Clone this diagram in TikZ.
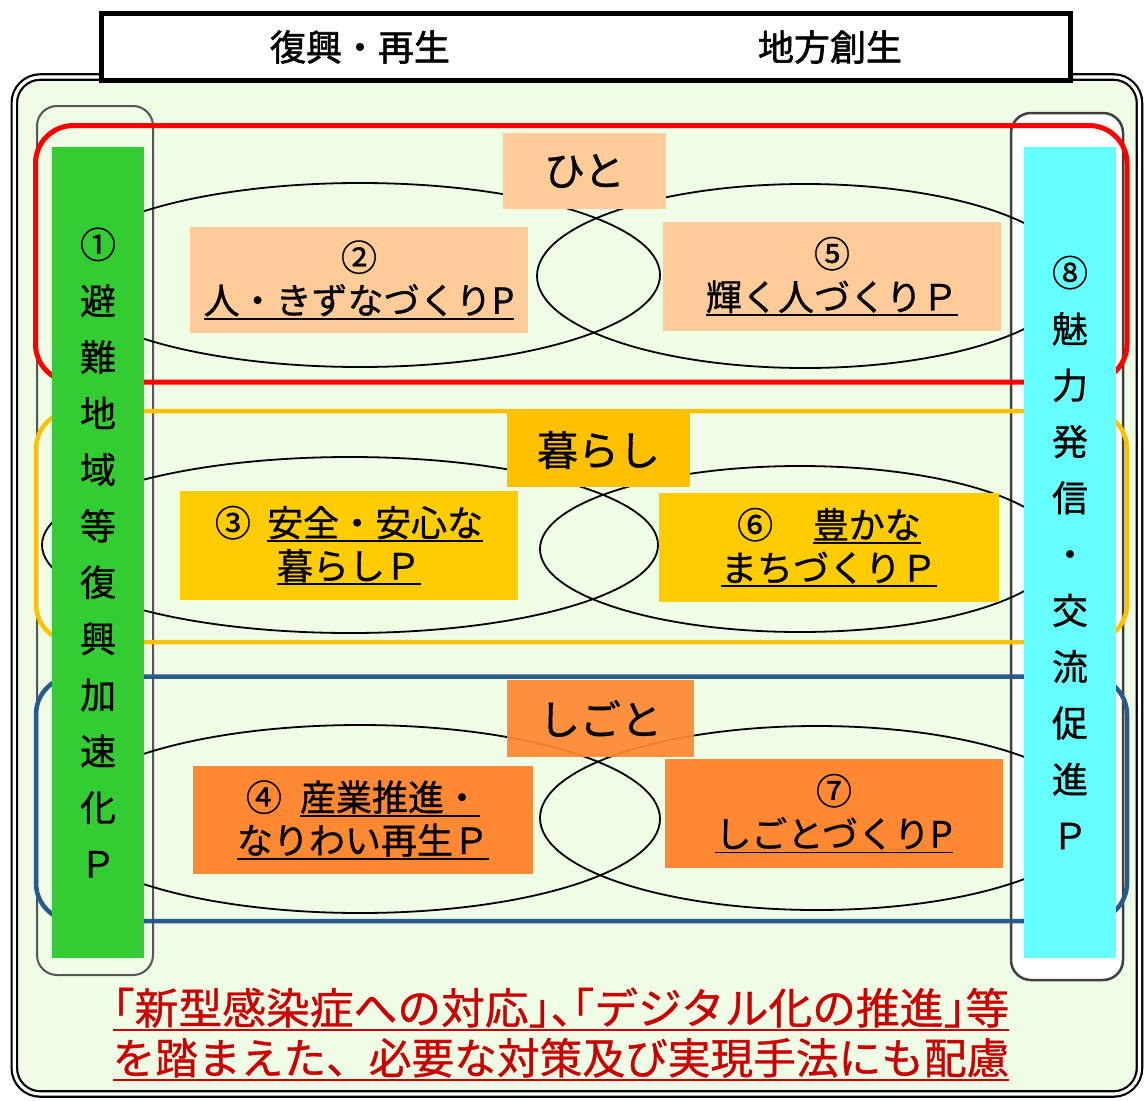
\documentclass[tikz,border=0pt]{standalone}
\usepackage{fontspec}
\setmainfont{Noto Sans CJK JP}
\newfontfamily\jpmed{Noto Sans CJK JP}[FakeBold=0.8]
\newfontfamily\jptitle{Noto Sans CJK JP}[FakeBold=1.6]
\definecolor{bgc}{HTML}{EFFDE7}
\definecolor{grnc}{HTML}{33CC33}
\definecolor{cyac}{HTML}{66FFFF}
\definecolor{peach}{HTML}{FFCC99}
\definecolor{ylwa}{HTML}{FFC000}
\definecolor{ylwb}{HTML}{FFCC00}
\definecolor{orng}{HTML}{FF8833}
\definecolor{bandred}{HTML}{FF0000}
\definecolor{bandblue}{HTML}{2A5A8C}
\definecolor{txtred}{HTML}{CC0000}
\definecolor{grayline}{HTML}{555555}
\newcommand\ulx[1]{\setbox0\hbox{#1}\rlap{\rule[-0.16em]{\wd0}{0.045em}}\box0}
\newcommand\hp[1]{{\addfontfeatures{RawFeature=+halt}#1}}
\begin{document}
\begin{tikzpicture}[x=1pt,y=-1pt,
  lbl/.style={inner sep=0pt, outer sep=0pt, align=center, font=\fontsize{36}{43}\jpmed},
  catbox/.style={inner sep=0pt, outer sep=0pt, font=\fontsize{41}{48}\jpmed},
  ell/.style={draw=black, line width=1.8pt},
  band/.style={rounded corners=38pt, line width=4.5pt},
  pillar/.style={inner sep=0pt, outer sep=0pt, align=center, minimum width=92pt, minimum height=811pt, font=\fontsize{36}{56.3}\jpmed},
  bottomtxt/.style={inner sep=0pt, text=txtred, font=\fontsize{42.7}{50}\jpmed}]
\useasboundingbox (0,0) rectangle (1148,1100);
% outer frame
\draw[fill=bgc, draw=black, line width=2.2pt, double=white, double distance=3.2pt, rounded corners=26pt] (14.3,77) rectangle (1139.5,1094);
% title box
\node[draw=black, line width=5pt, fill=white, minimum width=968.5pt, minimum height=67pt, inner sep=0pt] (title) at (585.75,46.5) {};
\node[font=\fontsize{36}{40}\jptitle, inner sep=0pt] (tl) at (360,47) {復興・再生};
\node[font=\fontsize{36}{40}\jptitle, inner sep=0pt] (tr) at (830,47) {地方創生};
% side frames
\draw[draw=grayline, line width=2pt, rounded corners=20pt] (37,106) rectangle (153,975);
\draw[fill=white, draw=black!75, line width=2.5pt, rounded corners=20pt] (1011,113) rectangle (1123,980);
% ellipses
\draw[ell] (360,275) ellipse [x radius=300pt, y radius=92pt];
\draw[ell] (805,276) ellipse [x radius=268pt, y radius=92pt];
\draw[ell] (350,545) ellipse [x radius=308pt, y radius=88pt];
\draw[ell] (800,549) ellipse [x radius=260pt, y radius=83pt];
\draw[ell] (360,819) ellipse [x radius=300pt, y radius=94pt];
\draw[ell] (817,818) ellipse [x radius=277pt, y radius=92pt];
% bands
\draw[band, draw=bandred, line width=5pt] (35.5,125.5) rectangle (1127,382);
\draw[band, draw=ylwa] (36,411) rectangle (1127,642);
\draw[band, draw=bandblue] (36,676.5) rectangle (1127,921);
% pillars
\node[pillar, fill=grnc] (p1) at (98,552.5) {①\\避\\難\\地\\域\\等\\復\\興\\加\\速\\化\\Ｐ};
\node[pillar, fill=cyac] (p8) at (1070,552.5) {⑧\\魅\\力\\発\\信\\・\\交\\流\\促\\進\\Ｐ};
% category boxes
\node[catbox, fill=peach, minimum width=163pt, minimum height=76pt] (hito) at (584.5,171) {ひと};
\node[catbox, fill=ylwa, minimum width=183pt, minimum height=74pt] (kurashi) at (598.5,450) {暮らし};
\node[catbox, fill=orng, fill opacity=0.93, text opacity=1, minimum width=187pt, minimum height=77pt] (shigoto) at (600.5,718.5) {しごと};
% project boxes
\node[lbl, fill=peach, minimum width=338pt, minimum height=106pt] (b2) at (359,280) {②\\\ulx{人・きずなづくりP}};
\node[lbl, fill=peach, minimum width=338pt, minimum height=109pt] (b5) at (832,276.5) {⑤\\\ulx{輝く人づくりＰ}};
\node[lbl, fill=ylwb, minimum width=338pt, minimum height=109pt] (b3) at (349,545.5) {③\hspace{0.45em}\ulx{安全・安心な}\\\ulx{暮らしＰ}};
\node[lbl, fill=ylwb, minimum width=340pt, minimum height=109pt] (b6) at (829,547.5) {⑥\hspace{1.1em}\ulx{豊かな}\\\ulx{まちづくりＰ}};
\node[lbl, fill=orng, minimum width=340pt, minimum height=108pt] (b4) at (363,820) {④\hspace{0.5em}\ulx{産業推進・}\\\ulx{なりわい再生Ｐ}};
\node[lbl, fill=orng, minimum width=338pt, minimum height=109pt] (b7) at (834,813.5) {⑦\\\ulx{しごとづくりP}};
% bottom note
\node[bottomtxt, anchor=base] (n1) at (561,1024) {\scalebox{1.025}[1]{\ulx{\hp{「}新型感染症への対応\hp{」、「}デジタル化の推進\hp{」}等}}};
\node[bottomtxt, anchor=base] (n2) at (561,1074) {\ulx{を踏まえた、必要な対策及び実現手法にも配慮}};
\end{tikzpicture}
\end{document}
